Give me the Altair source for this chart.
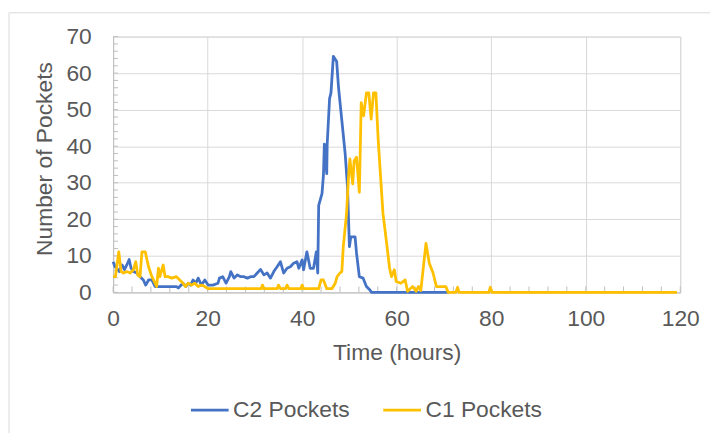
import altair as alt
import pandas as pd

# ---- data ----
c2_time = [0, 0.4, 0.8, 1.3, 1.9, 2.4, 2.9, 3.4, 3.8, 4.3, 5.0, 5.7, 6.4, 6.9, 7.5, 8.2, 8.9,
           9.6, 10.5, 11.5, 12.5, 13.4, 13.8, 14.4, 14.8, 15.4, 15.9, 16.4, 16.9, 17.5, 18.0,
           18.7, 19.4, 20.1, 20.6, 21.1, 22.2, 22.5, 23.2, 23.9, 24.6, 24.9, 25.6, 26.3, 27.0,
           27.7, 28.4, 29.1, 29.8, 30.5, 31.2, 31.9, 32.6, 33.3, 34.0, 34.7, 35.4, 35.8, 36.1,
           36.8, 37.5, 38.2, 38.9, 39.3, 40.0, 40.3, 41.0, 41.7, 42.4, 43.0, 43.3, 43.5, 44.2,
           44.5, 44.7, 45.2, 45.3, 45.8, 46.1, 46.6, 47.3, 47.7, 48.4, 49.1, 49.6, 50.0, 50.3,
           51.2, 51.5, 52.1, 52.9, 53.6, 54.3, 54.7, 71.0]
c2_vals = [8.4, 7.0, 6.6, 5.7, 7.5, 6.2, 7.5, 9.0, 6.6, 5.7, 5.3, 4.3, 3.4, 2.0, 3.4, 3.4, 1.6,
           1.6, 1.6, 1.6, 1.6, 1.6, 1.2, 2.0, 2.5, 1.6, 2.5, 2.0, 3.4, 2.5, 3.9,
           2.0, 3.4, 2.0, 2.0, 2.0, 2.5, 3.9, 4.3, 2.5, 4.3, 5.7, 3.9, 4.8, 4.3,
           4.3, 3.9, 4.3, 4.3, 5.3, 6.3, 4.8, 5.3, 3.9, 5.7, 7.0, 8.4, 6.6, 5.3,
           6.6, 7.0, 8.0, 8.4, 6.6, 8.9, 6.2, 11.1, 6.6, 6.6, 11.1, 5.3, 23.8, 27.0,
           32.0, 40.6, 32.5, 40.6, 53.0, 54.6, 64.6, 63.2, 56.0, 47.0, 38.0, 28.8, 12.5, 15.2,
           15.2, 10.8, 4.3, 3.9, 1.6, 0.7, 0.0, 0.0]

c1_time = [0, 0.5, 1.2, 1.7, 2.2, 2.9, 3.6, 4.3, 4.8, 5.2, 5.7, 6.1, 6.8, 7.5, 8.2, 8.9, 9.2,
           9.6, 9.9, 10.6, 11.0, 11.7, 12.4, 13.4, 14.1, 14.8, 15.3, 15.9, 16.6, 17.3, 18.0,
           18.7, 19.4, 20.1, 31.3, 31.6, 31.9, 34.7, 35.0, 35.4, 36.5, 36.8, 37.2, 39.7, 40.0,
           40.3, 43.5, 44.0, 44.5, 45.2, 46.3, 47.0, 47.4, 48.0, 48.4, 48.7, 49.4, 49.8, 50.1,
           50.7, 51.0, 51.5, 52.1, 52.5, 53.0, 53.6, 54.1, 54.6, 55.1, 55.6, 56.1, 57.1, 57.8,
           58.5, 58.9, 59.5, 59.9, 60.9, 61.8, 62.3, 63.4, 64.1, 64.6, 65.1, 66.2, 66.9, 67.7,
           68.4, 70.4, 70.9, 72.5, 72.9, 73.2, 79.5, 79.8, 80.2, 119.3]
c1_vals = [4.3, 4.3, 11.1, 5.7, 5.3, 5.7, 5.3, 6.2, 8.4, 4.8, 4.3, 11.1, 11.1, 7.0, 4.3, 2.5, 1.6,
           6.6, 4.3, 7.5, 4.3, 4.3, 3.9, 4.3, 3.4, 2.5, 1.6, 2.5, 2.0, 2.5, 1.6,
           2.0, 1.6, 1.0, 1.0, 2.0, 1.0, 1.0, 2.0, 1.0, 1.0, 2.0, 1.0, 1.0, 2.0,
           1.0, 1.0, 3.4, 3.4, 1.0, 1.0, 2.5, 4.3, 5.3, 5.7, 12.5, 21.6, 31.5, 36.5,
           29.7, 36.0, 37.0, 27.4, 51.9, 48.3, 54.6, 54.6, 47.4, 54.6, 54.6, 41.5, 21.6, 14.3,
           6.6, 4.3, 6.2, 3.0, 2.5, 3.4, 0.3, 1.6, 0.3, 1.6, 0.5, 13.4, 8.0, 5.3,
           1.6, 1.6, 0.0, 0.0, 1.4, 0.0, 0.0, 1.4, 0.0, 0.0]

series_names = ["C2 Pockets", "C1 Pockets"]
series_colors = ["#4472C4", "#FFC000"]

x_ticks = [0, 20, 40, 60, 80, 100, 120]
y_ticks = [0, 10, 20, 30, 40, 50, 60, 70]
x_minor = [0, 4, 8, 12, 16, 20, 24, 28, 32, 36, 40, 44, 48, 52, 56, 60, 64, 68, 72, 76, 80,
           84, 88, 92, 96, 100, 104, 108, 112, 116, 120]
y_minor = [0, 2, 4, 6, 8, 10, 12, 14, 16, 18, 20, 22, 24, 26, 28, 30, 32, 34, 36, 38, 40,
           42, 44, 46, 48, 50, 52, 54, 56, 58, 60, 62, 64, 66, 68, 70]

W, H = 572, 258
FONT = "Liberation Sans"
FS = 23
TXT = "#595959"
GRID = "#D9D9D9"

df_c2 = pd.DataFrame({"t": c2_time, "v": c2_vals, "s": series_names[0]})
df_c1 = pd.DataFrame({"t": c1_time, "v": c1_vals, "s": series_names[1]})

x_scale = alt.Scale(domain=[0, 120], nice=False, zero=False)
y_scale = alt.Scale(domain=[0, 70], nice=False)
color = alt.Color(
    "s:N",
    scale=alt.Scale(domain=series_names, range=series_colors),
    legend=alt.Legend(
        title=None, orient="none", direction="horizontal", legendX=77, legendY=356,
        symbolType="stroke", symbolSize=1444, symbolStrokeWidth=2.8,
        labelFont=FONT, labelFontSize=FS, labelColor=TXT, labelOffset=3,
        columnPadding=27, padding=0,
    ),
)

x_axis = alt.Axis(
    values=x_ticks, grid=True, gridColor=GRID, gridWidth=1, ticks=False, tickSize=0,
    domainColor="#BFBFBF", labelFont=FONT, labelFontSize=FS, labelColor=TXT,
    labelPadding=15, labelOverlap=False, labelFlush=False, title="Time (hours)",
    titleFont=FONT, titleFontSize=FS, titleFontWeight="normal", titleColor=TXT, titleY=50,
)
y_axis = alt.Axis(
    values=y_ticks, grid=True, gridColor=GRID, gridWidth=1, ticks=False, tickSize=0,
    domainColor="#BFBFBF", labelFont=FONT, labelFontSize=FS, labelColor=TXT,
    labelPadding=22, labelOverlap=False, labelFlush=False, title="Number of Pockets",
    titleFont=FONT, titleFontSize=FS, titleFontWeight="normal", titleColor=TXT,
    titleX=-57, titleY=123,
)

X = lambda: alt.X("t:Q", scale=x_scale, axis=x_axis)
Y = lambda: alt.Y("v:Q", scale=y_scale, axis=y_axis)

base_c2 = alt.Chart(df_c2).mark_line(strokeWidth=2.8, strokeJoin="round").encode(
    x=X(), y=Y(), color=color,
)
base_c1 = alt.Chart(df_c1).mark_line(strokeWidth=2.8, strokeJoin="round").encode(
    x=X(), y=Y(), color=color,
)

xt = alt.Chart(pd.DataFrame({"t": x_minor})).mark_rule(color="#BFBFBF", strokeWidth=1).encode(
    x=X(), y=alt.value(H - 6), y2=alt.value(H)
)
yt = alt.Chart(pd.DataFrame({"v": y_minor})).mark_rule(color="#BFBFBF", strokeWidth=1).encode(
    y=Y(), x=alt.value(0), x2=alt.value(5)
)

one = pd.DataFrame({"a": [0]})
border_top = alt.Chart(one).mark_rule(color=GRID, strokeWidth=1).encode(
    x=alt.value(-105), x2=alt.value(W + 40), y=alt.value(-24)
)
border_left = alt.Chart(one).mark_rule(color=GRID, strokeWidth=1).encode(
    x=alt.value(-105), y=alt.value(-24), y2=alt.value(H + 150)
)

chart = alt.layer(border_top, border_left, xt, yt, base_c2, base_c1).properties(
    width=W, height=H,
    autosize=alt.AutoSizeParams(type="none"),
    padding={"left": 106, "top": 27, "right": 30, "bottom": 140},
    background="white",
).configure_view(stroke=GRID).configure_axis(labelOverlap=False, labelFlush=False)

chart.save("out.html", embed_options={"renderer": "svg", "actions": False})
